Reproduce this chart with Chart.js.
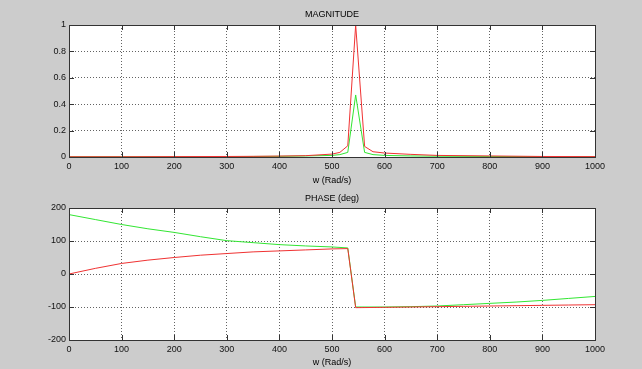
<!DOCTYPE html>
<html>
<head>
<meta charset="utf-8">
<title>Magnitude / Phase</title>
<script src="https://cdn.jsdelivr.net/npm/chart.js@4.4.0/dist/chart.umd.min.js"></script>
<style>
    html, body { margin: 0; padding: 0; background: #cccccc; }
    #wrap { position: relative; width: 642px; height: 369px; overflow: hidden; }
    #box1 { position: absolute; left: 0; top: 0; width: 642px; height: 186px; }
    #box2 { position: absolute; left: 0; top: 186px; width: 642px; height: 183px; }
</style>
</head>
<body>
<div id="wrap">
    <div id="box1"><canvas id="magChart"></canvas></div>
    <div id="box2"><canvas id="phaseChart"></canvas></div>
</div>
<script>
// dati: modulo
var magW =     [0,     100,   200,   300,   350,   400,   450,   500,   515,   530,   545,  562,   578,   600,   650,   700,   800,   900,   1000];
var magRed =   [0.002, 0.002, 0.003, 0.004, 0.005, 0.007, 0.010, 0.022, 0.035, 0.085, 1.00, 0.080, 0.040, 0.030, 0.020, 0.012, 0.008, 0.004, 0.003];
var magGreen = [0.002, 0.002, 0.002, 0.003, 0.004, 0.005, 0.008, 0.012, 0.018, 0.035, 0.47, 0.035, 0.018, 0.012, 0.008, 0.006, 0.004, 0.003, 0.002];

// dati: fase (gradi)
var phaseW =     [0,   50,  100, 150, 200, 250, 300, 350, 400, 450, 500, 530, 545,  600,  650,  700, 750, 800, 850, 900, 950, 1000];
var phaseRed =   [0,   17,  32,  42,  50,  57,  62,  67,  70,  73,  76,  77,  -102, -101, -100, -99, -98, -97, -96, -95, -94, -93];
var phaseGreen = [180, 165, 150, 137, 126, 113, 101, 95,  89,  85,  82,  79,  -100, -100, -99,  -97, -93, -89, -85, -80, -74, -68];

var xTicks = [0, 100, 200, 300, 400, 500, 600, 700, 800, 900, 1000];

var FONT = 'Liberation Sans, Arial, sans-serif';

// unisco x e y in punti per la scala lineare
function toPoints(xs, ys) {
    var out = [];
    for (var i = 0; i < xs.length; i++) {
        out.push({x: xs[i], y: ys[i]});
    }
    return out;
}

// sfondo bianco, riquadro, tacche interne stile matlab e titolo centrato sull'area
var frame = {
    id: 'frame',
    beforeDraw: function(chart) {
        var a = chart.chartArea;
        var ctx = chart.ctx;
        ctx.save();
        ctx.fillStyle = '#ffffff';
        ctx.fillRect(a.left, a.top, a.right - a.left, a.bottom - a.top);
        ctx.restore();
    },
    afterDraw: function(chart, args, opts) {
        var a = chart.chartArea;
        var ctx = chart.ctx;
        var sx = chart.scales.x;
        var sy = chart.scales.y;
        ctx.save();
        ctx.strokeStyle = '#333333';
        ctx.lineWidth = 1;
        ctx.strokeRect(Math.round(a.left) + 0.5, Math.round(a.top) + 0.5,
            Math.round(a.right - a.left), Math.round(a.bottom - a.top));
        ctx.beginPath();
        sx.ticks.forEach(function(t) {
            var px = Math.round(sx.getPixelForValue(t.value)) + 0.5;
            ctx.moveTo(px, a.top); ctx.lineTo(px, a.top + 5);
            ctx.moveTo(px, a.bottom); ctx.lineTo(px, a.bottom - 5);
        });
        sy.ticks.forEach(function(t) {
            var py = Math.round(sy.getPixelForValue(t.value)) + 0.5;
            ctx.moveTo(a.left, py); ctx.lineTo(a.left + 5, py);
            ctx.moveTo(a.right, py); ctx.lineTo(a.right - 5, py);
        });
        ctx.stroke();

        // titolo
        ctx.fillStyle = '#000000';
        ctx.font = '9px ' + FONT;
        ctx.textAlign = 'center';
        ctx.textBaseline = 'middle';
        ctx.fillText(opts.text, (a.left + a.right) / 2, opts.y);
        ctx.restore();
    }
};

function create_chart(id, title, titleY, areaTop, datasets, yMin, yMax, yStep, titleBottom) {
    var ctx = document.getElementById(id).getContext('2d');
    return new Chart(ctx, {
        type: 'line',
        data: { datasets: datasets },
        plugins: [frame],
        options: {
            responsive: true,
            maintainAspectRatio: false,
            animation: false,
            layout: { padding: { left: 0, right: 47, top: areaTop, bottom: 0 } },
            plugins: {
                legend: { display: false },
                tooltip: { enabled: false },
                title: { display: false },
                frame: { text: title, y: titleY }
            },
            elements: {
                point: { radius: 0 },
                line: { borderWidth: 1, tension: 0 }
            },
            scales: {
                x: {
                    type: 'linear',
                    min: 0,
                    max: 1000,
                    afterBuildTicks: function(scale) {
                        scale.ticks = xTicks.map(function(v) { return {value: v}; });
                    },
                    afterFit: function(scale) { scale.height = 29; },
                    grid: {
                        color: 'rgba(60,60,60,0.8)',
                        drawTicks: false
                    },
                    border: { display: false, dash: [1, 2] },
                    ticks: {
                        color: '#111111',
                        padding: 4,
                        maxRotation: 0,
                        font: { family: FONT, size: 9 },
                        callback: function(v) { return String(v); }
                    },
                    title: {
                        display: true,
                        text: 'w (Rad/s)',
                        color: '#000000',
                        font: { family: FONT, size: 9 },
                        padding: { top: 0, bottom: titleBottom }
                    }
                },
                y: {
                    min: yMin,
                    max: yMax,
                    afterFit: function(scale) { scale.width = 69; },
                    grid: {
                        color: 'rgba(60,60,60,0.8)',
                        drawTicks: false
                    },
                    border: { display: false, dash: [1, 2] },
                    ticks: {
                        stepSize: yStep,
                        color: '#111111',
                        padding: 3,
                        font: { family: FONT, size: 9 },
                        callback: function(v) { return String(Math.round(v * 10) / 10); }
                    }
                }
            }
        }
    });
}

create_chart('magChart', 'MAGNITUDE', 15, 25, [
    { label: 'rosso', data: toPoints(magW, magRed), borderColor: 'rgb(240,50,50)' },
    { label: 'verde', data: toPoints(magW, magGreen), borderColor: 'rgb(50,230,50)' }
], 0, 1, 0.2, 0);

create_chart('phaseChart', 'PHASE (deg)', 13, 22, [
    { label: 'rosso', data: toPoints(phaseW, phaseRed), borderColor: 'rgb(240,50,50)' },
    { label: 'verde', data: toPoints(phaseW, phaseGreen), borderColor: 'rgb(50,230,50)' }
], -200, 200, 100, 1.5);
</script>
</body>
</html>
